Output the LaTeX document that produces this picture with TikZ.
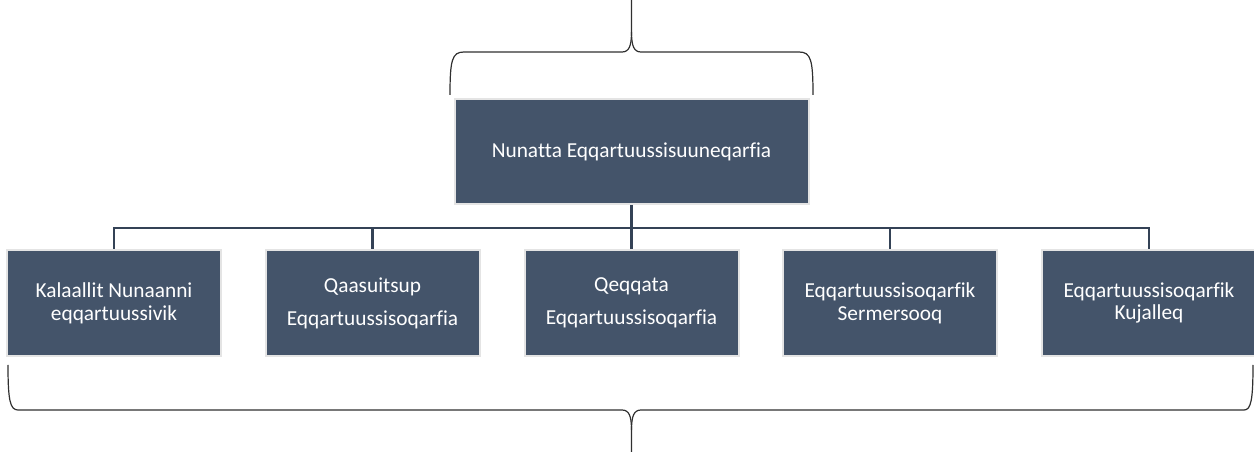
\documentclass[tikz,border=0pt]{standalone}
\usepackage{fontspec}
\setmainfont{Carlito}[Ligatures=NoCommon]
\usetikzlibrary{calc}
\definecolor{boxfill}{HTML}{44546A}
\definecolor{boxedge}{HTML}{E4E4E4}
\definecolor{connline}{HTML}{344256}
\definecolor{bracecol}{HTML}{303030}
\tikzset{
  orgbox/.style={draw=boxedge, line width=1.5pt, fill=boxfill, text=white,
    align=center, inner sep=0pt, font=\fontsize{16}{17}\selectfont},
  childbox/.style={orgbox, minimum width=160.5pt, minimum height=79.5pt},
  conn/.style={draw=connline, line width=1.9pt},
  bracestyle/.style={draw=bracecol, line width=0.9pt}
}
\begin{document}
\begin{tikzpicture}[x=0.75pt,y=-0.75pt]
\useasboundingbox (0,0) rectangle (1254,452);
\node[orgbox, minimum width=265.5pt, minimum height=78.75pt] (top) at (631.5,151.5) {Nunatta Eqqartuussisuuneqarfia};
\node[childbox] (c1) at (114,303) {Kalaallit Nunaanni\\eqqartuussivik};
\node[childbox] (c2) at (372.5,303) {Qaasuitsup\\[7.75pt]Eqqartuussisoqarfia};
\node[childbox] (c3) at (631.5,303) {Qeqqata\\[7.75pt]Eqqartuussisoqarfia};
\node[childbox] (c4) at (890,303) {Eqqartuussisoqarfik\\Sermersooq};
\node[childbox] (c5) at (1149,303) {Eqqartuussisoqarfik\\Kujalleq};
\coordinate (bus) at (631.5,228);
\draw[conn] (top.south) -- (top.south |- bus);
\draw[conn] (c1.north) -- (c1.north |- bus) -- (c5.north |- bus) -- (c5.north);
\foreach \c in {c2,c3,c4} \draw[conn] (\c.north) -- (\c.north |- bus);
% top brace
\draw[bracestyle] (450,95) .. controls (450,60) and (452,52) .. (464,52) -- (622,52)
  .. controls (629,52) and (631.5,46) .. (631.5,32) -- (631.5,0);
\draw[bracestyle] (631.5,32) .. controls (631.5,46) and (634,52) .. (641,52) -- (799,52)
  .. controls (811,52) and (813,60) .. (813,95);
% bottom brace
\draw[bracestyle] (8,365) .. controls (8,400) and (10,410) .. (18,410) -- (622,410)
  .. controls (629,410) and (631.5,416) .. (631.5,430) -- (631.5,452);
\draw[bracestyle] (631.5,430) .. controls (631.5,416) and (634,410) .. (641,410) -- (1244,410)
  .. controls (1251,410) and (1253,400) .. (1253,365);
\end{tikzpicture}
\end{document}
